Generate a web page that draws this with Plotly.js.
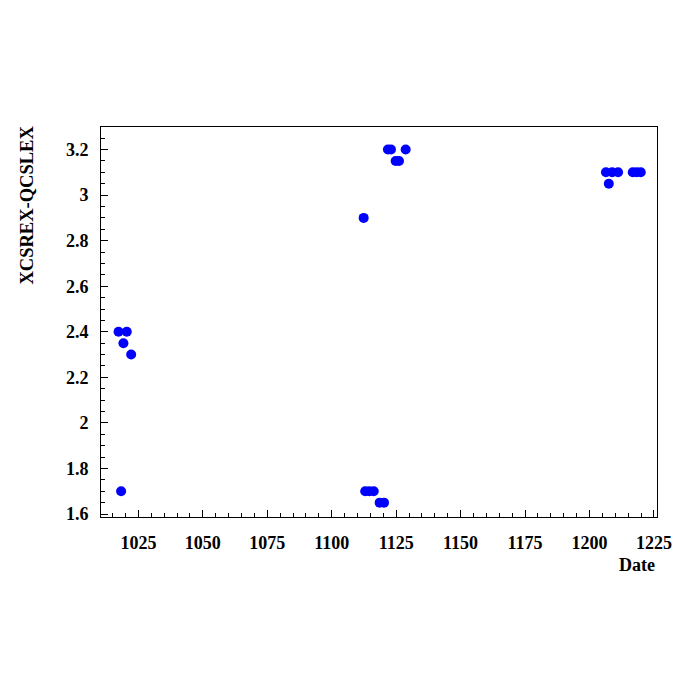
<!DOCTYPE html>
<html>
<head>
<meta charset="utf-8">
<script src="https://cdn.plot.ly/plotly-3.0.1.min.js"></script>
<style>html,body{margin:0;padding:0;background:#fff;}#chart{width:696px;height:696px;}</style>
</head>
<body>
<div id="chart"></div>
<script>
const dates = [1017.3, 1020.5, 1019.2, 1022.2, 1018.3,
               1112.4, 1121.8, 1123.0, 1128.7, 1124.8, 1126.1,
               1113.0, 1114.6, 1116.3, 1118.6, 1120.3,
               1206.4, 1208.8, 1211.1, 1216.8, 1218.3, 1219.9, 1207.5];
const values = [2.4, 2.4, 2.35, 2.3, 1.7,
                2.9, 3.2, 3.2, 3.2, 3.15, 3.15,
                1.7, 1.7, 1.7, 1.65, 1.65,
                3.1, 3.1, 3.1, 3.1, 3.1, 3.1, 3.05];
const xTitle = "Date";
const yTitle = "XCSREX-QCSLEX";

const fam = "Liberation Serif, Times New Roman, serif";

const trace = {
  x: dates, y: values, type: "scatter", mode: "markers",
  marker: {symbol: "circle", size: 10, color: "#0000ff", line: {width: 0}},
  hoverinfo: "x+y"
};

const layout = {
  width: 696, height: 696,
  margin: {l: 101, r: 39, t: 127, b: 179},
  paper_bgcolor: "#fff", plot_bgcolor: "#fff",
  showlegend: false,
  font: {family: fam, size: 18, color: "#000"},
  xaxis: {
    range: [1010.5, 1226.2], tickmode: "linear", tick0: 1025, dtick: 25,
    ticks: "inside", ticklen: 7, tickwidth: 1, tickcolor: "#000",
    minor: {ticks: "inside", ticklen: 4, dtick: 5, tick0: 1025, tickcolor: "#000", showgrid: false},
    showline: true, linecolor: "#000", linewidth: 1, mirror: true,
    showgrid: false, zeroline: false,
    ticklabelstandoff: 9,
    tickfont: {family: fam, size: 18, color: "#000", weight: "bold"}
  },
  yaxis: {
    range: [1.587, 3.299], tickmode: "linear", tick0: 1.6, dtick: 0.2,
    ticks: "inside", ticklen: 7, tickwidth: 1, tickcolor: "#000",
    minor: {ticks: "inside", ticklen: 4, dtick: 0.05, tick0: 1.6, tickcolor: "#000", showgrid: false},
    showline: true, linecolor: "#000", linewidth: 1, mirror: true,
    showgrid: false, zeroline: false,
    ticklabelstandoff: 8,
    tickfont: {family: fam, size: 18, color: "#000", weight: "bold"}
  },
  annotations: [
    {text: "<b>" + xTitle + "</b>", xref: "paper", yref: "paper", x: 1, y: 0,
     xanchor: "right", yanchor: "top", yshift: -36, showarrow: false,
     font: {family: fam, size: 18, color: "#000"}},
    {text: "<b>" + yTitle + "</b>", xref: "paper", yref: "paper", x: 0, y: 1,
     xanchor: "center", yanchor: "top", xshift: -75, yshift: 3, textangle: -90, showarrow: false,
     font: {family: fam, size: 18.5, color: "#000"}}
  ]
};

Plotly.newPlot("chart", [trace], layout, {displayModeBar: false, staticPlot: true});
</script>
</body>
</html>
